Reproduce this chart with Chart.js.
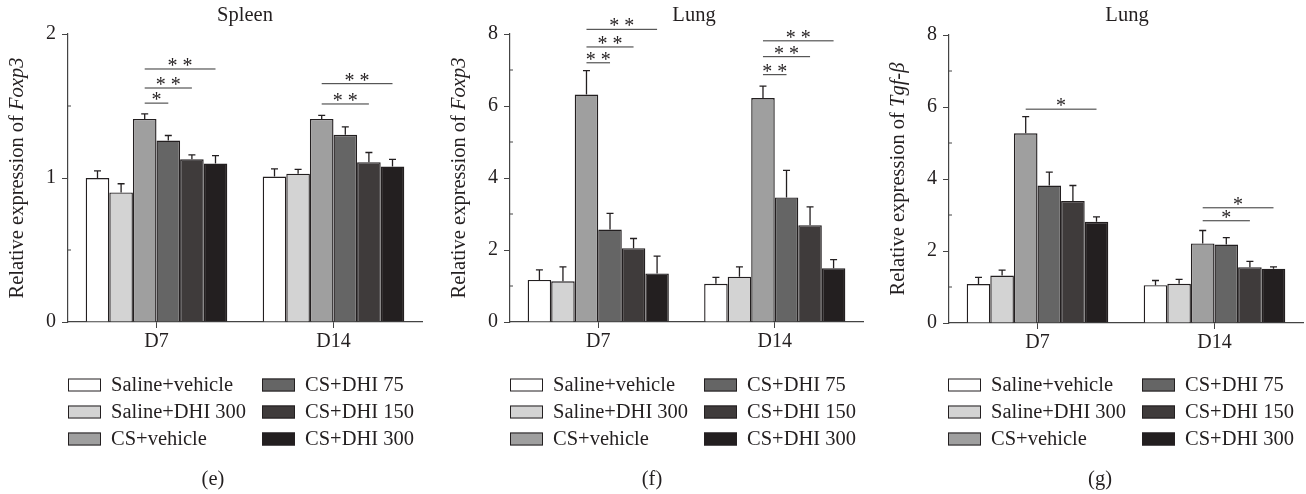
<!DOCTYPE html>
<html>
<head>
<meta charset="utf-8">
<script src="https://cdn.jsdelivr.net/npm/chart.js@4.4.1/dist/chart.umd.min.js"></script>
<style>
  html, body { margin: 0; padding: 0; background: #fff; }
  #wrap { position: relative; width: 1306px; height: 494px; }
  .panel { position: absolute; top: 0; height: 494px; }
</style>
</head>
<body>
<div id="wrap">
  <div class="panel" style="left:0;width:435px"><canvas id="cE"></canvas></div>
  <div class="panel" style="left:435px;width:435px"><canvas id="cF"></canvas></div>
  <div class="panel" style="left:870px;width:436px"><canvas id="cG"></canvas></div>
</div>
<script>
// ---- data ----
const days = ['D7', 'D14'];
const groupNames = ['Saline+vehicle', 'Saline+DHI 300', 'CS+vehicle', 'CS+DHI 75', 'CS+DHI 150', 'CS+DHI 300'];
const groupColors = ['#ffffff', '#d3d3d3', '#9f9f9f', '#656565', '#3f3b3b', '#231f20'];

// (e) spleen Foxp3
const spleenD7 = [1.00, 0.90, 1.41, 1.26, 1.13, 1.10];
const spleenD7Err = [0.05, 0.06, 0.035, 0.035, 0.03, 0.055];
const spleenD14 = [1.01, 1.03, 1.41, 1.30, 1.11, 1.08];
const spleenD14Err = [0.053, 0.03, 0.025, 0.055, 0.067, 0.05];
const spleenTicks = [0, 1, 2];
// [day, from group, to group, y value, stars]
const spleenSig = [[0, 2, 3, 1.52, '*'], [0, 2, 4, 1.625, '**'], [0, 2, 5, 1.757, '**'],
                   [1, 2, 4, 1.514, '**'], [1, 2, 5, 1.655, '**']];

// (f) lung Foxp3
const lungFoxD7 = [1.17, 1.13, 6.32, 2.57, 2.05, 1.35];
const lungFoxD7Err = [0.28, 0.40, 0.66, 0.45, 0.27, 0.48];
const lungFoxD14 = [1.06, 1.26, 6.22, 3.46, 2.69, 1.49];
const lungFoxD14Err = [0.18, 0.27, 0.33, 0.75, 0.51, 0.24];
const lungFoxTicks = [0, 2, 4, 6, 8];
const lungFoxSig = [[0, 2, 3, 7.20, '**'], [0, 2, 4, 7.64, '**'], [0, 2, 5, 8.13, '**'],
                    [1, 2, 3, 6.87, '**'], [1, 2, 4, 7.37, '**'], [1, 2, 5, 7.81, '**']];

// (g) lung Tgf-beta
const lungTgfD7 = [1.08, 1.32, 5.27, 3.82, 3.39, 2.81];
const lungTgfD7Err = [0.19, 0.15, 0.46, 0.37, 0.43, 0.14];
const lungTgfD14 = [1.05, 1.09, 2.21, 2.18, 1.55, 1.51];
const lungTgfD14Err = [0.13, 0.12, 0.36, 0.19, 0.16, 0.05];
const lungTgfTicks = [0, 2, 4, 6, 8];
const lungTgfSig = [[0, 2, 5, 5.94, '*'], [1, 2, 4, 2.84, '*'], [1, 2, 5, 3.20, '*']];

// ---- styling ----
const FONT = '"Liberation Serif", "Times New Roman", serif';
const INK = '#231f20';
const AXIS = '#444';
const H = 494;
const TXT = '20.5px ';

// draws titles, error bars, significance bars, legend and panel letter
const decorPlugin = {
  id: 'decor',
  afterDatasetsDraw(chart, args, o) {
    const ctx = chart.ctx;
    const y = chart.scales.y;
    ctx.save();
    ctx.strokeStyle = INK;
    ctx.lineWidth = 1.3;
    chart.data.datasets.forEach((ds, i) => {
      chart.getDatasetMeta(i).data.forEach((bar, j) => {
        const top = y.getPixelForValue(ds.data[j] + ds.err[j]);
        ctx.beginPath();
        ctx.moveTo(bar.x, bar.y);
        ctx.lineTo(bar.x, top);
        ctx.moveTo(bar.x - 3.5, top);
        ctx.lineTo(bar.x + 3.5, top);
        ctx.stroke();
      });
    });
    ctx.restore();
  },
  afterDraw(chart, args, o) {
    const ctx = chart.ctx;
    const area = chart.chartArea;
    const y = chart.scales.y;
    ctx.save();

    // minor ticks (inside)
    ctx.strokeStyle = AXIS;
    ctx.lineWidth = 1;
    for (let k = 0; k < o.ticks.length - 1; k++) {
      const py = y.getPixelForValue((o.ticks[k] + o.ticks[k + 1]) / 2);
      ctx.beginPath();
      ctx.moveTo(area.left, py);
      ctx.lineTo(area.left + 3, py);
      ctx.stroke();
    }

    ctx.fillStyle = INK;
    // panel title
    ctx.font = TXT + FONT;
    ctx.textAlign = 'center';
    ctx.textBaseline = 'middle';
    ctx.fillText(o.title, o.titleX, 16);

    // y title with italic gene name
    const fNorm = TXT + FONT;
    const fIt = 'italic ' + TXT + FONT;
    ctx.font = fNorm;
    const w1 = ctx.measureText(o.yPre).width;
    ctx.font = fIt;
    const w2 = ctx.measureText(o.yGene).width;
    ctx.translate(area.left - 50, (area.top + area.bottom) / 2);
    ctx.rotate(-Math.PI / 2);
    ctx.textAlign = 'left';
    ctx.font = fNorm;
    ctx.fillText(o.yPre, -(w1 + w2) / 2, 0);
    ctx.font = fIt;
    ctx.fillText(o.yGene, -(w1 + w2) / 2 + w1, 0);
    ctx.setTransform(1, 0, 0, 1, 0, 0);

    // significance bars
    ctx.strokeStyle = '#333';
    ctx.lineWidth = 1;
    ctx.font = '20px ' + FONT;
    ctx.textAlign = 'center';
    ctx.textBaseline = 'alphabetic';
    o.sig.forEach(s => {
      const x1 = chart.getDatasetMeta(s[1]).data[s[0]].x;
      const x2 = chart.getDatasetMeta(s[2]).data[s[0]].x;
      const py = y.getPixelForValue(s[3]);
      ctx.beginPath();
      ctx.moveTo(x1, py);
      ctx.lineTo(x2, py);
      ctx.stroke();
      const label = s[4].split('').join(' ');
      const m = ctx.measureText(label);
      const c = (m.actualBoundingBoxAscent - m.actualBoundingBoxDescent) / 2;
      ctx.fillText(label, (x1 + x2) / 2, py - 7 + c);
    });

    // legend, two columns
    ctx.font = TXT + FONT;
    ctx.textAlign = 'left';
    ctx.textBaseline = 'middle';
    ctx.lineWidth = 1;
    ctx.strokeStyle = INK;
    groupNames.forEach((name, i) => {
      const col = Math.floor(i / 3), row = i % 3;
      const bx = area.left + o.legendDx + col * 194;
      const by = 385 + row * 27;
      ctx.fillStyle = groupColors[i];
      ctx.fillRect(bx, by - 6.5, 33, 13);
      ctx.strokeRect(bx + 0.5, by - 6, 32, 12);
      ctx.fillStyle = INK;
      ctx.fillText(name, bx + 43, by + 1);
    });

    // panel letter
    ctx.textAlign = 'center';
    ctx.fillText(o.letter, o.letterX, 480);
    ctx.restore();
  }
};

function makePanel(id, p) {
  const canvasW = document.getElementById(id).parentNode.clientWidth;
  const datasets = groupNames.map((name, i) => ({
    label: name,
    data: [p.d7[i], p.d14[i]],
    err: [p.e7[i], p.e14[i]],
    backgroundColor: groupColors[i],
    borderColor: INK,
    borderWidth: 1.4,
    categoryPercentage: 0.8,
    barPercentage: 1.0
  }));
  return new Chart(document.getElementById(id), {
    type: 'bar',
    data: { labels: days, datasets: datasets },
    plugins: [decorPlugin],
    options: {
      responsive: true,
      maintainAspectRatio: false,
      animation: false,
      layout: { padding: { left: 0, top: p.top, right: canvasW - p.right, bottom: 0 } },
      plugins: {
        legend: { display: false },
        tooltip: { enabled: false },
        decor: {
          title: p.title, titleX: p.titleX, yPre: 'Relative expression of ', yGene: p.gene,
          ticks: p.ticks, sig: p.sig, letter: p.letter, letterX: p.letterX, legendDx: p.legendDx
        }
      },
      scales: {
        x: {
          grid: { offset: false, drawOnChartArea: false, drawTicks: true, tickLength: 6, color: AXIS },
          border: { display: true, color: AXIS, width: 1.2 },
          ticks: { color: INK, font: { family: FONT, size: 20 }, padding: 2 },
          afterFit: s => { s.height = H - p.bottom; }
        },
        y: {
          min: p.ticks[0],
          max: p.ticks[p.ticks.length - 1],
          afterBuildTicks: s => { s.ticks = p.ticks.map(v => ({ value: v })); },
          grid: { drawOnChartArea: false, drawTicks: true, tickLength: 6, color: AXIS },
          border: { display: true, color: AXIS, width: 1.2 },
          ticks: { color: INK, font: { family: FONT, size: 20 }, padding: 6 },
          afterFit: s => { s.width = p.left; }
        }
      }
    }
  });
}

makePanel('cE', {
  d7: spleenD7, e7: spleenD7Err, d14: spleenD14, e14: spleenD14Err, ticks: spleenTicks, sig: spleenSig,
  title: 'Spleen', titleX: 245, gene: 'Foxp3', letter: '(e)', letterX: 213,
  left: 68, right: 422, top: 34, bottom: 322, legendDx: 0
});
makePanel('cF', {
  d7: lungFoxD7, e7: lungFoxD7Err, d14: lungFoxD14, e14: lungFoxD14Err, ticks: lungFoxTicks, sig: lungFoxSig,
  title: 'Lung', titleX: 259, gene: 'Foxp3', letter: '(f)', letterX: 217,
  left: 75, right: 428, top: 34, bottom: 322, legendDx: 0
});
makePanel('cG', {
  d7: lungTgfD7, e7: lungTgfD7Err, d14: lungTgfD14, e14: lungTgfD14Err, ticks: lungTgfTicks, sig: lungTgfSig,
  title: 'Lung', titleX: 257, gene: 'Tgf-\u03b2', letter: '(g)', letterX: 230,
  left: 79, right: 433, top: 35, bottom: 323, legendDx: -1
});
</script>
</body>
</html>
